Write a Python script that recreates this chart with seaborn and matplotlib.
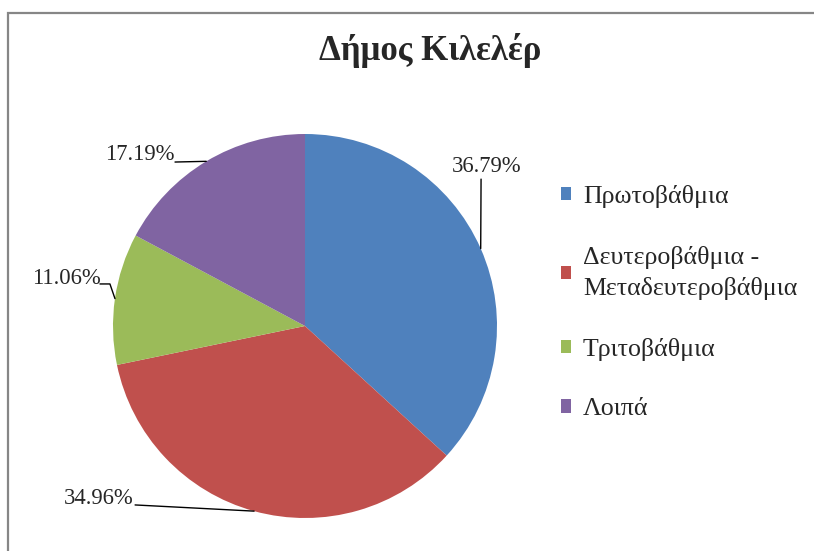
import numpy as np
import matplotlib
matplotlib.use("Agg")
import matplotlib.pyplot as plt
import seaborn as sns
from matplotlib.patches import Rectangle

# ---- data ----
title = "Δήμος Κιλελέρ"
categories = ["Πρωτοβάθμια", "Δευτεροβάθμια -\nΜεταδευτεροβάθμια", "Τριτοβάθμια", "Λοιπά"]
values = [36.79, 34.96, 11.06, 17.19]
colors = ["#4F81BD", "#C0504D", "#9BBB59", "#8064A2"]

# label placement (in pie radius units, relative to centre)
label_text_pos = [(0.945, 0.829), (-1.073, -0.901), (-1.245, 0.250), (-0.859, 0.891)]
label_line_end = [(0.917, 0.765), (-0.885, -0.932), (-1.068, 0.219), (-0.677, 0.854)]
label_line_elbow = [None, None, (-1.016, 0.219), None]

sns.set_theme(style="white")
plt.rcParams['font.family'] = ['Liberation Serif', 'DejaVu Serif']

fig = plt.figure(figsize=(8.14, 5.51), dpi=100)
fig.patch.set_facecolor("white")
# outer chart border
fig.patches.append(Rectangle((8/814, -0.05), 1.1, 1 - 13/551 + 0.05, transform=fig.transFigure,
                             fill=False, edgecolor="#868686", linewidth=1.6))

ax = fig.add_axes([113/814, 33/551, 384/814, 384/551])
pal = sns.color_palette(colors)
wedges, _ = ax.pie(values, colors=pal, startangle=90, counterclock=False,
                   wedgeprops=dict(linewidth=0))
ax.set_xlim(-1, 1)
ax.set_ylim(-1, 1)
ax.set_aspect("equal")
ax.axis("off")

for w, v, tp, le, el in zip(wedges, values, label_text_pos, label_line_end, label_line_elbow):
    mid = np.deg2rad((w.theta1 + w.theta2) / 2)
    ax_pt = (np.cos(mid), np.sin(mid))
    if el is None:
        xs, ys = [ax_pt[0], le[0]], [ax_pt[1], le[1]]
    else:
        xs, ys = [ax_pt[0], el[0], le[0]], [ax_pt[1], el[1], le[1]]
    ax.plot(xs, ys, color="black", linewidth=1.0, clip_on=False)
    ax.text(tp[0], tp[1], f"{v:.2f}%", ha="center", va="center", fontsize=16.3, clip_on=False)

fig.text(430/814, 1 - 50/551, title, ha="center", va="center", fontsize=25, fontweight="bold")

leg = fig.legend(wedges, categories, loc="upper left", bbox_to_anchor=(561/814, 1 - 185/551),
                 frameon=False, fontsize=18.6, handlelength=0.4, handleheight=0.4,
                 handletextpad=0.45, labelspacing=1.46, borderpad=0, borderaxespad=0)
for t in leg.get_texts():
    t.set_linespacing(1.45)

fig.savefig("out.png", dpi=100)
